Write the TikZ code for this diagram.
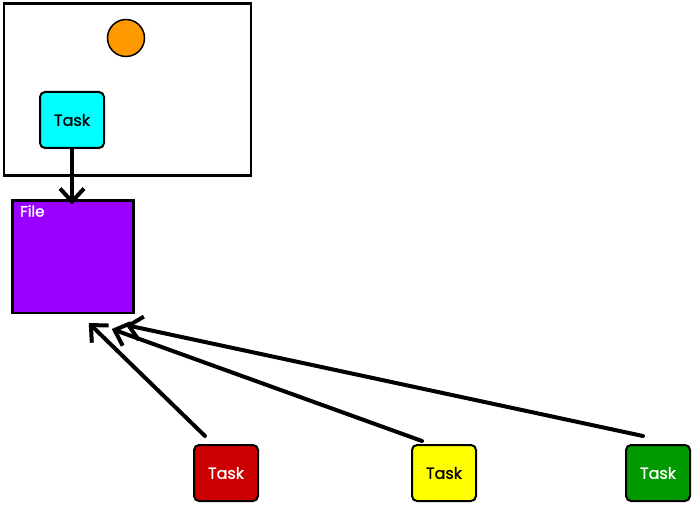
\documentclass[tikz,border=0pt]{standalone}
\usepackage{fontspec}
\setmainfont{Poppins}
\newfontfamily\taskfont{Poppins}[FakeBold=0.8]
\newfontfamily\filefont{Poppins}[FakeBold=1.6]
\usetikzlibrary{arrows.meta}
\definecolor{cyanfill}{HTML}{00FFFF}
\definecolor{orangefill}{HTML}{FF9900}
\definecolor{purplefill}{HTML}{9900FF}
\definecolor{redfill}{HTML}{CC0000}
\definecolor{yellowfill}{HTML}{FFFF00}
\definecolor{greenfill}{HTML}{009900}
\tikzset{
  taskbox/.style={draw=black, line width=2pt, rounded corners=5pt,
    minimum width=64pt, minimum height=56pt, inner sep=0pt,
    font=\taskfont\fontsize{16}{19}\selectfont},
  flowarrow/.style={line width=4pt, line cap=round,
    -{Straight Barb[length=13pt, width=24pt, line width=4pt]}},
}
\begin{document}
\begin{tikzpicture}[x=1pt, y=-1pt]
  \useasboundingbox (0,0) rectangle (693,505);
  % frame and the circle inside it
  \node[draw=black, line width=2.5pt, minimum width=247pt, minimum height=172pt,
    inner sep=0pt, anchor=north west] (frame) at (2.5,2.5) {};
  \node[draw=black, line width=1.5pt, fill=orangefill, circle,
    minimum size=37pt, inner sep=0pt] (dot) at (126,38) {};
  % tasks
  \node[taskbox, fill=cyanfill] (tcyan) at (72,120) {Task};
  \node[taskbox, fill=redfill, text=white] (tred) at (226,473) {Task};
  \node[taskbox, fill=yellowfill] (tyellow) at (444,473) {Task};
  \node[taskbox, fill=greenfill, text=white] (tgreen) at (658,473) {Task};
  % file
  \node[draw=black, line width=2.5pt, fill=purplefill, minimum width=121pt,
    minimum height=112pt, inner sep=0pt, anchor=north west] (file) at (11,199.5) {};
  \node[text=white, anchor=north west, inner sep=0pt,
    font=\filefont\fontsize{15}{18}\selectfont] (filelabel) at (20,205) {File};
  % connectors
  \draw[flowarrow] (tcyan.south) -- ([yshift=-5pt]file.north -| tcyan.south);
  \draw[flowarrow] ([shift={(-21,-8)}]tred.north) -- ([shift={(16,9)}]file.south);
  \draw[flowarrow] ([shift={(-22,-3)}]tyellow.north) -- ([shift={(39,15)}]file.south);
  \draw[flowarrow] ([shift={(-15,-8)}]tgreen.north) -- ([shift={(53,11)}]file.south);
\end{tikzpicture}
\end{document}
